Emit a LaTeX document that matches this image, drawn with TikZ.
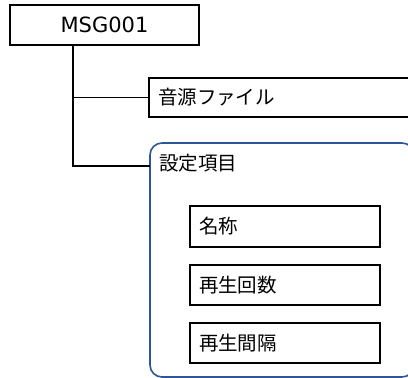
\documentclass[tikz,border=0pt]{standalone}
\usepackage{fontspec}
\setmainfont{Noto Sans CJK JP}
\newfontfamily\latinfont{DejaVu Sans}
\newcommand{\jpsize}{\fontsize{19.5}{23}\selectfont}
\begin{document}
\begin{tikzpicture}[x=1pt,y=1pt,
  box/.style={draw=black,line width=1.6pt,rectangle,inner sep=0pt},
  lbox/.style={box,align=left,inner xsep=9pt,font=\jpsize},
  grp/.style={draw={rgb,255:red,47;green,85;blue,151},line width=1.6pt,rounded corners=12pt},
  link/.style={draw=black,line width=1.8pt}]
\useasboundingbox (0,0) rectangle (408,378);
\node[box,minimum width=189pt,minimum height=40pt,font=\latinfont\fontsize{21}{24}\selectfont] (msg) at (104.5,353) {MSG001};
\node[lbox,minimum height=39pt,text width=253pt] (src) at (284.5,280.5) {音源ファイル};
\draw[grp] (150,1) rectangle (414,235);
\coordinate (setw) at (150,212);
\node[anchor=west,inner sep=0pt,font=\jpsize] (settitle) at (159,215) {設定項目};
\node[lbox,minimum height=41pt,text width=172pt] (name) at (285,151.5) {名称};
\node[lbox,minimum height=40pt,text width=172pt] (count) at (285,93) {再生回数};
\node[lbox,minimum height=40pt,text width=172pt] (intv) at (285,35) {再生間隔};
\draw[link] ([xshift=64pt]msg.south west) |- (src.west);
\draw[link] ([xshift=64pt]msg.south west) |- (setw);
\end{tikzpicture}
\end{document}
